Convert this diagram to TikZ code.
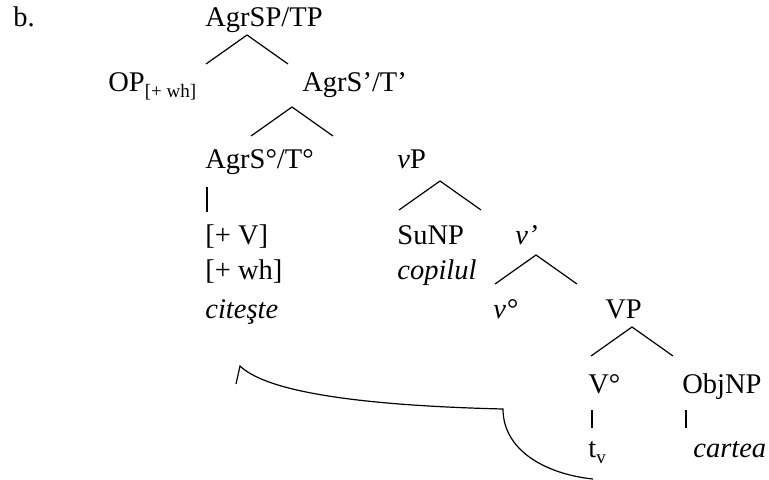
\documentclass[tikz,border=0pt]{standalone}
\usepackage{fontspec}
\setmainfont{Liberation Serif}
\usetikzlibrary{positioning}

\newcommand{\lowsub}[1]{\raisebox{-3pt}{\fontsize{9.5}{11}\selectfont #1}}

\begin{document}
\begin{tikzpicture}[
  x=0.5pt, y=-0.5pt,
  lbl/.style={anchor=base west, inner sep=0pt, font=\fontsize{14.25}{17}\selectfont},
  ital/.style={lbl, font=\fontsize{14.25}{17}\selectfont\itshape},
  branch/.style={line width=0.6pt, draw=black},
  move/.style={line width=0.6pt, draw=black}
]
\useasboundingbox (0,0) rectangle (769,480);

\node[lbl] (ex) at (13,27) {b.};
\node[lbl] (agrsp) at (205,27) {AgrSP/TP};

\node[lbl] (op) at (108,92) {OP\lowsub{[+ wh]}};
\node[lbl] (agrsbar) at (302,92) {AgrS’/T’};

\node[lbl] (agrshead) at (205,169) {AgrS°/T°};
\node[lbl] (vp) at (397,169) {\textit{v}P};

\node[lbl] (fv) at (205,245) {[+ V]};
\node[lbl] (fwh) at (205,279) {[+ wh]};
\node[ital] (verb) at (205,318) {citeşte};

\node[lbl] (subj) at (397,245) {SuNP};
\node[ital] (subjword) at (397,279) {copilul};
\node[ital] (vbar) at (515,245) {v’};
\node[ital] (vhead) at (493,318) {v°};
\node[lbl] (bigvp) at (605,318) {VP};

\node[lbl] (vhd) at (588,393) {V°};
\node[lbl] (obj) at (682,393) {ObjNP};
\node[lbl] (trace) at (588,457) {t\lowsub{v}};
\node[ital] (objword) at (693,457) {cartea};

% binary branches
\foreach \n/\x/\y in {tp/247/35, tbar/292/107, vp/440/181, vbar/536/255, bigvp/632/327}{
  \path (\x,\y) coordinate (\n-top) +(-41,29) coordinate (\n-l) +(41,29) coordinate (\n-r);
  \draw[branch] (\n-l) -- (\n-top) -- (\n-r);
}

% unary branches
\foreach \n/\x/\y/\h in {agr/207/187/25, vhd/592/410/18, obj/686/410/18}{
  \path (\x,\y) coordinate (\n-up) +(0,\h) coordinate (\n-dn);
  \draw[branch] (\n-up) -- (\n-dn);
}

% verb movement
\coordinate (trace-foot) at (593,479);
\coordinate (bend) at (503,409);
\coordinate (landing) at (240,366);
\coordinate (landing-barb) at (236,384);
\draw[move] (trace-foot) .. controls (545,474) and (503,450) .. (bend)
  .. controls (380,406) and (270,395) .. (landing) -- (landing-barb);

\end{tikzpicture}
\end{document}
